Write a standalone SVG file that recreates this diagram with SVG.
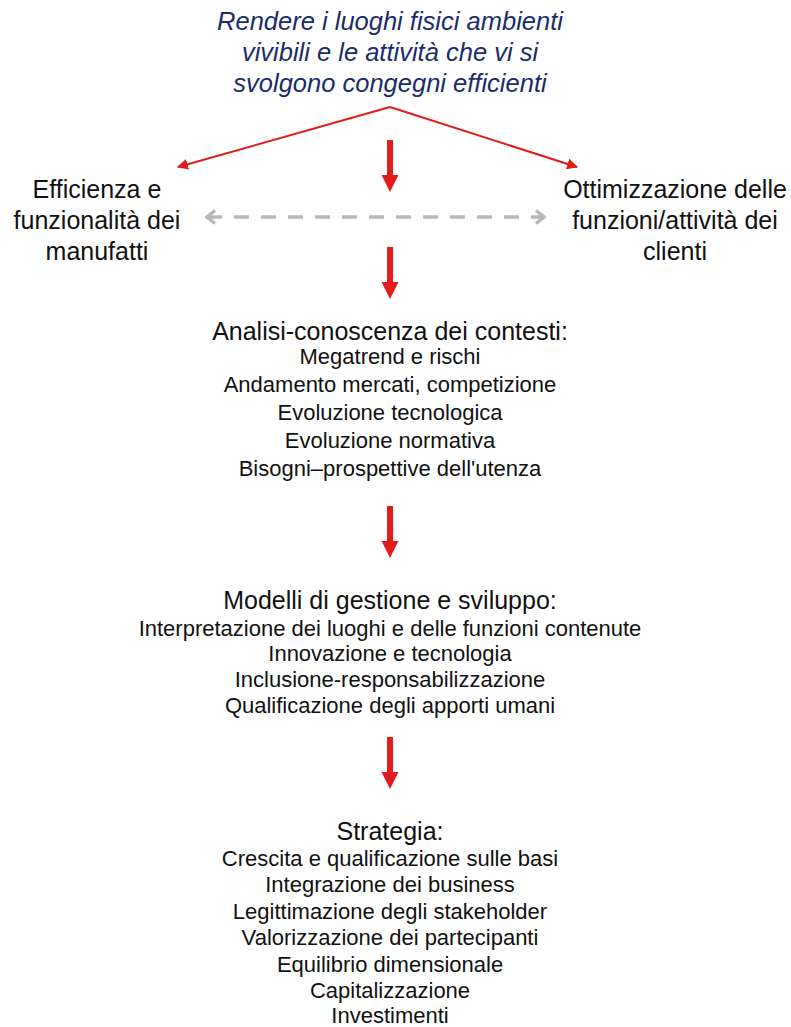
<svg xmlns="http://www.w3.org/2000/svg" width="791" height="1027" viewBox="0 0 791 1027">
<style>
text{font-family:"Liberation Sans",Arial,sans-serif;text-anchor:middle;fill:#111}
.title{font-style:italic;font-size:25.5px;fill:#1a2d6a}
.side{font-size:25px}
.head{font-size:25px}
.item{font-size:22px}
.thin{stroke:#e41b1b;stroke-width:2;fill:none}
.dash{stroke:#b8b8b8;stroke-width:3.5;stroke-dasharray:15 12;fill:none}
</style>
<defs>
<marker id="ah" viewBox="0 0 10 10" refX="9" refY="5" markerWidth="5.5" markerHeight="5.5" orient="auto"><path d="M0,0 L10,5 L0,10 Z" fill="#e41b1b"/></marker>
<marker id="ahg" viewBox="0 0 12 16" refX="10" refY="8" markerWidth="12" markerHeight="16" markerUnits="userSpaceOnUse" orient="auto-start-reverse"><path d="M2,1.5 L10,8 L2,14.5" fill="none" stroke="#b8b8b8" stroke-width="3.5"/></marker>
<path id="bigarrow" d="M-3,0 L3,0 L3,35 L8.5,35 L0,52 L-8.5,35 L-3,35 Z" fill="#e41b1b"/>
</defs>
<g id="title">
<text class="title" x="390" y="30">Rendere i luoghi fisici ambienti</text>
<text class="title" x="390" y="61">vivibili e le attività che vi si</text>
<text class="title" x="390" y="92">svolgono congegni efficienti</text>
</g>
<g id="left">
<text class="side" x="97" y="198">Efficienza e</text>
<text class="side" x="97" y="229">funzionalità dei</text>
<text class="side" x="97" y="260">manufatti</text>
</g>
<g id="right">
<text class="side" x="675" y="198">Ottimizzazione delle</text>
<text class="side" x="675" y="229">funzioni/attività dei</text>
<text class="side" x="675" y="260">clienti</text>
</g>
<g id="analisi">
<text class="head" x="390" y="340">Analisi-conoscenza dei contesti:</text>
<text class="item" x="390" y="364">Megatrend e rischi</text>
<text class="item" x="390" y="392">Andamento mercati, competizione</text>
<text class="item" x="390" y="420">Evoluzione tecnologica</text>
<text class="item" x="390" y="448">Evoluzione normativa</text>
<text class="item" x="390" y="476">Bisogni–prospettive dell'utenza</text>
</g>
<g id="modelli">
<text class="head" x="390" y="609">Modelli di gestione e sviluppo:</text>
<text class="item" x="390" y="636">Interpretazione dei luoghi e delle funzioni contenute</text>
<text class="item" x="390" y="661">Innovazione e tecnologia</text>
<text class="item" x="390" y="687">Inclusione-responsabilizzazione</text>
<text class="item" x="390" y="713">Qualificazione degli apporti umani</text>
</g>
<g id="strategia">
<text class="head" x="390" y="840">Strategia:</text>
<text class="item" x="390" y="866">Crescita e qualificazione sulle basi</text>
<text class="item" x="390" y="892">Integrazione dei business</text>
<text class="item" x="390" y="919">Legittimazione degli stakeholder</text>
<text class="item" x="390" y="945">Valorizzazione dei partecipanti</text>
<text class="item" x="390" y="972">Equilibrio dimensionale</text>
<text class="item" x="390" y="998">Capitalizzazione</text>
<text class="item" x="390" y="1023">Investimenti</text>
</g>
<g id="connectors">
<line class="thin" x1="390" y1="107" x2="178" y2="167" marker-end="url(#ah)"/>
<line class="thin" x1="390" y1="107" x2="577" y2="167" marker-end="url(#ah)"/>
<use href="#bigarrow" x="390" y="140"/>
<use href="#bigarrow" x="390" y="247"/>
<use href="#bigarrow" x="390" y="506"/>
<use href="#bigarrow" x="390" y="737"/>
<line class="dash" x1="207" y1="217" x2="544" y2="217" marker-start="url(#ahg)" marker-end="url(#ahg)"/>
</g>
</svg>
